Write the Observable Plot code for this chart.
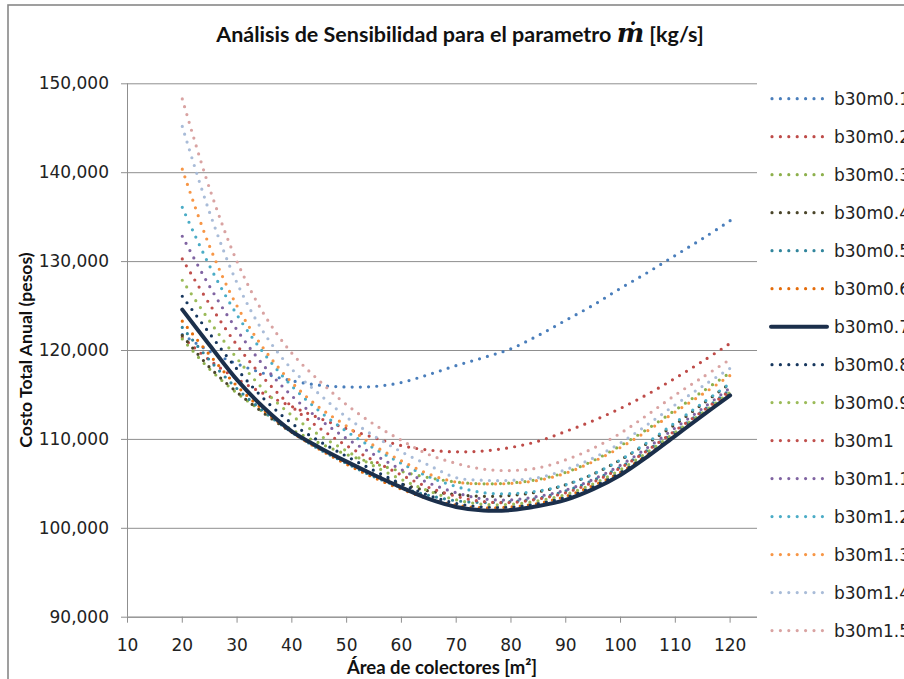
<!DOCTYPE html>
<html>
<head>
<meta charset="utf-8">
<script src="https://cdn.jsdelivr.net/npm/d3@7"></script>
<script src="https://cdn.jsdelivr.net/npm/@observablehq/plot@0.6"></script>
<style>
  body { margin: 0; background: #fff; }
  #chart { position: relative; width: 904px; height: 679px; overflow: hidden; background: #fff; }
  #chart svg { position: absolute; left: 0; top: 0; }
</style>
</head>
<body>
<div id="chart"></div>
<script>
// ---- data ----
const xValues = [20,25,30,35,40,45,50,55,60,65,70,75,80,85,90,95,100,105,110,115,120];
const seriesNames = ["b30m0.1","b30m0.2","b30m0.3","b30m0.4","b30m0.5","b30m0.6","b30m0.7","b30m0.8","b30m0.9","b30m1","b30m1.1","b30m1.2","b30m1.3","b30m1.4","b30m1.5"];
const seriesColors = ["#4A7EBB","#BE4B48","#8DB04C","#4A452A","#31859C","#E46C0A","#1B2F4B","#17375E","#9BBB59","#C0504D","#8064A2","#4BACC6","#F79646","#A9BCD8","#D9A3A2"];
const m01 = [121800,119900,118500,117400,116600,116100,115900,115950,116400,117300,118300,119200,120200,121700,123400,125100,127000,128800,130700,132600,134600];
const m02 = [121500,118900,116800,115100,113700,112400,111200,110200,109300,108800,108600,108700,109100,109800,110900,112100,113500,115100,116900,118800,120800];
const m03 = [121300,117900,115200,113000,111100,109600,108300,107300,106400,105700,105200,105000,105100,105500,106300,107600,109300,111200,113300,115400,117500];
const m04 = [121700,118100,115300,112900,110800,109000,107500,106100,105000,104200,103800,103600,103700,104100,104900,106100,107700,109600,111700,114000,116300];
const m05 = [122600,118900,115700,113100,110800,108900,107300,105800,104600,103700,103100,102900,103000,103400,104200,105400,106900,108800,110900,113200,115600];
const m06 = [123300,119500,116000,113200,110800,108900,107200,105700,104400,103300,102600,102300,102400,102800,103600,104800,106300,108300,110500,112800,115200];
const m07 = [124600,120600,116700,113500,110900,109100,107500,106000,104600,103300,102400,102000,102050,102500,103200,104400,106000,108100,110400,112700,114950];
const m08 = [126100,121900,117900,114500,111800,109800,108100,106500,105000,103700,102800,102400,102400,102800,103500,104700,106300,108300,110600,112800,115100];
const m09 = [127900,123300,119100,115500,112700,110500,108700,107000,105500,104200,103200,102700,102700,103100,103800,105000,106600,108600,110800,113000,115300];
const m10 = [130300,125200,120600,116800,113700,111300,109300,107600,106000,104600,103600,103000,102900,103300,104000,105200,106800,108800,111000,113200,115500];
const m11 = [132850,127200,122300,118200,114900,112300,110100,108300,106600,105100,104000,103300,103200,103600,104300,105500,107100,109100,111300,113500,115800];
const m12 = [136100,129500,124000,119600,116000,113200,110900,109000,107300,105800,104700,104000,103900,104200,104900,106100,107700,109700,111900,114100,116300];
const m13 = [140400,131700,125000,120100,116400,113600,111500,109300,107600,106100,105200,105000,105050,105400,106200,107500,109100,111000,113100,115100,117200];
const m14 = [145200,135500,127600,121900,117900,115100,112500,110400,108600,107100,105700,105400,105400,105700,106600,107900,109600,111700,113900,116000,118000];
const m15 = [148300,138200,130000,124000,119700,116600,113900,111700,109900,108300,107300,106650,106500,106800,107700,109000,110700,112800,115000,117000,119000];
const seriesValues = [m01,m02,m03,m04,m05,m06,m07,m08,m09,m10,m11,m12,m13,m14,m15];
const yTicks = [90000,100000,110000,120000,130000,140000,150000];
const xTicks = [10,20,30,40,50,60,70,80,90,100,110,120];
const solidName = "b30m0.7";

// ---- build table ----
const rows = seriesNames.flatMap((name, i) => xValues.map((x, j) => ({series: name, x, y: seriesValues[i][j]})));

const order = seriesNames.filter(n => n !== solidName).concat([solidName]);
const lineMarks = order.map(name => {
  const i = seriesNames.indexOf(name);
  const solid = name === solidName;
  return Plot.line(rows.filter(d => d.series === name), {
    x: "x", y: "y",
    stroke: seriesColors[i],
    strokeWidth: solid ? 4 : 3.2,
    strokeDasharray: solid ? null : "0 8.2",
    strokeLinecap: "round",
    curve: "catmull-rom"
  });
});

const grey = "#8f8f8f";
const plot = Plot.plot({
  width: 904, height: 679,
  marginLeft: 127, marginRight: 147, marginTop: 83.3, marginBottom: 62.3,
  x: {domain: [10, 125]},
  y: {domain: [90000, 150000]},
  style: {fontFamily: "DejaVu Sans", fontSize: "17px", background: "transparent"},
  marks: [
    Plot.gridY(yTicks, {stroke: grey, strokeOpacity: 1, strokeWidth: 1}),
    Plot.ruleX([10], {stroke: grey}),
    Plot.ruleY([90000], {stroke: grey}),
    Plot.axisY(yTicks, {tickFormat: d3.format(","), tickSize: 6, tickPadding: 12.5, stroke: grey, fill: "#222", label: null, fontSize: 17}),
    Plot.axisX(xTicks, {tickSize: 6, tickPadding: 16, stroke: grey, fill: "#222", label: null, fontSize: 17}),
    ...lineMarks
  ]
});

const chart = document.getElementById("chart");
chart.appendChild(plot);

// ---- frame, legend, titles ----
const over = d3.select(chart).append("svg")
  .attr("width", 904).attr("height", 679)
  .style("pointer-events", "none");
over.append("rect").attr("x", 8).attr("y", 5).attr("width", 1000).attr("height", 1000)
  .attr("fill", "none").attr("stroke", "#888").attr("stroke-width", 1.6);

const leg = over.append("g");
seriesNames.forEach((name, i) => {
  const y = 98.7 + i * 37.99;
  const solid = name === solidName;
  leg.append("line").attr("x1", solid ? 771 : 772).attr("x2", solid ? 827 : 824).attr("y1", y).attr("y2", y)
    .attr("stroke", seriesColors[i]).attr("stroke-width", solid ? 4 : 3.2)
    .attr("stroke-linecap", "round").attr("stroke-dasharray", solid ? null : "0 8.4");
  leg.append("text").attr("x", 834).attr("y", y).attr("dy", "0.35em")
    .attr("font-family", "DejaVu Sans").attr("font-size", 17).attr("fill", "#222").text(name);
});

const title = over.append("text").attr("x", 460).attr("y", 34.6).attr("dy", "0.35em")
  .attr("text-anchor", "middle").attr("font-family", "Lato, 'Noto Sans', sans-serif")
  .attr("font-weight", "bold").attr("font-size", 21.5).attr("fill", "#111");
title.append("tspan").text("Análisis de Sensibilidad para el parametro ");
title.append("tspan").attr("font-family", "'DejaVu Serif', serif").attr("font-style", "italic")
  .attr("font-size", 26).text("ṁ");
title.append("tspan").text(" [kg/s]");

over.append("text").attr("transform", "translate(26,350) rotate(-90)").attr("dy", "0.35em")
  .attr("text-anchor", "middle").attr("font-family", "Lato, 'Noto Sans', sans-serif")
  .attr("font-weight", "bold").attr("font-size", 17.6).attr("fill", "#111")
  .text("Costo Total Anual (pesos)");

over.append("text").attr("x", 442).attr("y", 668).attr("dy", "0.35em")
  .attr("text-anchor", "middle").attr("font-family", "Lato, 'Noto Sans', sans-serif")
  .attr("font-weight", "bold").attr("font-size", 18.5).attr("fill", "#111")
  .text("Área de colectores [m²]");
</script>
</body>
</html>
